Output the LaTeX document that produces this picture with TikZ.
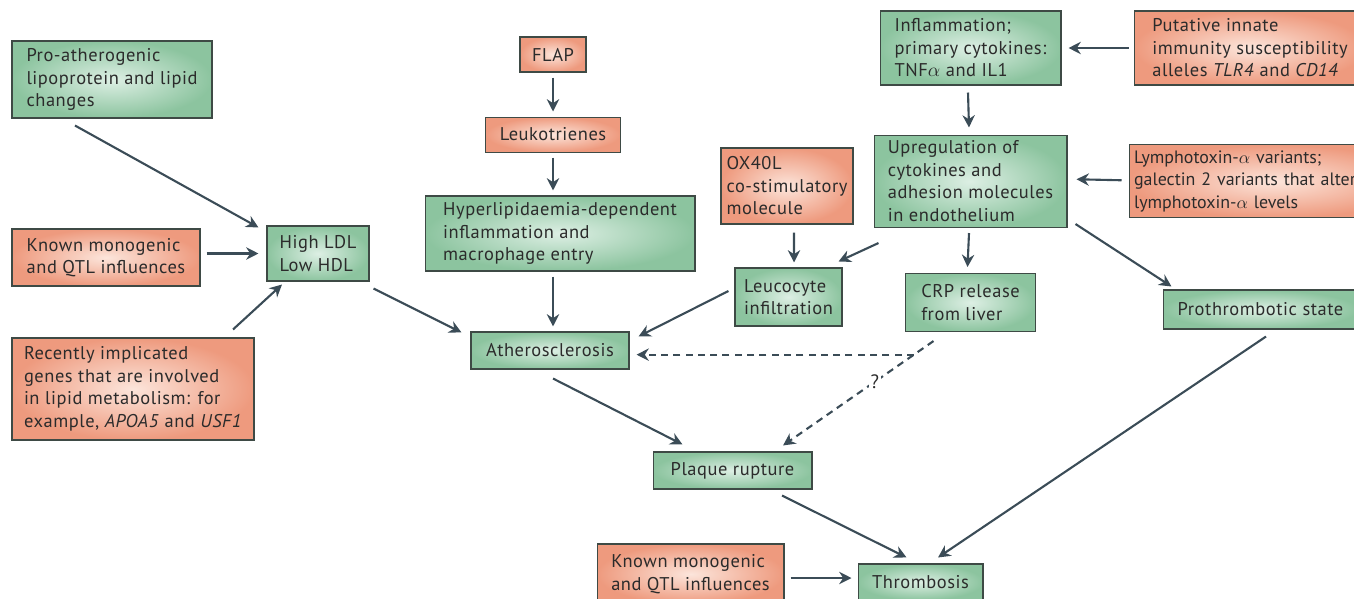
\documentclass[tikz,border=0pt]{standalone}
\usepackage{fontspec}
\setmainfont{PT Sans}[LetterSpace=3]
\newfontfamily\tightsans{PT Sans}
\usepackage{tikz}
\usepackage{xcolor}
\usetikzlibrary{arrows, arrows.meta, positioning, calc}

\definecolor{greenout}{HTML}{8CC49F}
\definecolor{greenin}{HTML}{DDEFE4}
\definecolor{orangeout}{HTML}{EE9A7E}
\definecolor{orangein}{HTML}{FCE5DB}
\definecolor{edge}{HTML}{3E4A45}
\definecolor{arrowc}{HTML}{3B4C57}
\definecolor{ink}{HTML}{2B2B2B}

\begin{document}
\begin{tikzpicture}[x=0.02cm, y=-0.02cm, node distance=1cm]
    % One unit is one pixel of the original figure (y grows downwards), so
    % the boxes can be set from the measured corners. The figure is cropped
    % on the right and at the bottom, hence the clip.
    \useasboundingbox (0,0) rectangle (1354,598);
    \clip (0,0) rectangle (1354,598);

    \tikzstyle{state} = [rectangle, draw=edge, line width=0.6pt,
        inner color=greenin, outer color=greenout, align=left, text=ink,
        inner xsep=0pt, font=\fontsize{10.5}{12.8}\selectfont]
    \tikzstyle{gene} = [state, inner color=orangein, outer color=orangeout]
    \tikzstyle{arrow} = [line width=1.2pt, draw=arrowc,
        -{Stealth[length=7pt, width=7pt]}]
    \tikzstyle{dasharrow} = [arrow, dash pattern=on 4pt off 3pt]

    % left column: lipid route
    \node (pro) [state, minimum width=4cm, minimum height=1.54cm] at (112,79.5)
        {Pro-atherogenic\\lipoprotein and lipid\\changes};
    \node (knownA) [gene, minimum width=3.76cm, minimum height=1.14cm] at (106,257.5)
        {Known monogenic\\and QTL influences};
    \node (ldl) [state, minimum width=2.04cm, minimum height=1.1cm] at (318,253.5)
        {High LDL\\Low HDL};
    \node (recent) [gene, minimum width=4.84cm, minimum height=2.04cm] at (133,389)
        {Recently implicated\\genes that are involved\\in lipid metabolism: for\\example, \textit{APOA5} and \textit{USF1}};

    % middle: leukotriene route
    \node (flap) [gene, minimum width=1.32cm, minimum height=0.7cm] at (553,54.5) {FLAP};
    \node (leuko) [gene, minimum width=2.7cm, minimum height=0.7cm, below=0.88cm of flap]
        {Leukotrienes};
    \node (hyper) [state, minimum width=5.4cm, minimum height=1.5cm] at (560,233.5)
        {Hyperlipidaemia-dependent\\inflammation and\\macrophage entry};
    \node (ox40) [gene, minimum width=2.64cm, minimum height=1.52cm] at (787,186)
        {OX40L\\co-stimulatory\\molecule};
    \node (leuc) [state, minimum width=2.14cm, minimum height=1.16cm] at (788.5,297)
        {Leucocyte\\infiltration};
    \node (athero) [state, minimum width=3.16cm, minimum height=0.74cm] at (550,350.5)
        {Atherosclerosis};

    % right: inflammation route
    \node (inflam) [state, minimum width=3.62cm, minimum height=1.48cm] at (970.5,48)
        {Inflammation;\\primary cytokines:\\TNF$\alpha$ and IL1};
    \node (putative) [gene, minimum width=4.64cm, minimum height=1.48cm, right=1.44cm of inflam]
        {Putative innate\\immunity susceptibility\\alleles \textit{TLR4} and \textit{CD14}};
    \node (upreg) [state, minimum width=3.86cm, minimum height=1.84cm, below=0.98cm of inflam]
        {Upregulation of\\cytokines and\\adhesion molecules\\in endothelium};
    % its right side runs off the page, as in the original: wide text width
    % so that «alter» stays on its line, no letter spacing and a hair
    % smaller so that it still ends before the edge
    \node (lympho) [gene, minimum height=1.44cm, right=1.22cm of upreg,
        text width=5.6cm, inner xsep=0.1cm,
        font=\tightsans\fontsize{10.2}{12.8}\selectfont]
        {Lymphotoxin-$\alpha$ variants;\\galectin 2 variants that alter\\lymphotoxin-$\alpha$ levels};
    \node (crp) [state, minimum width=2.6cm, minimum height=1.16cm, below=0.9cm of upreg]
        {CRP release\\from liver};
    \node (proth) [state, minimum width=3.9cm, minimum height=0.78cm] at (1260.5,309.5)
        {Prothrombotic state};

    % bottom
    \node (plaque) [state, minimum width=3.18cm, minimum height=0.74cm] at (732.5,470.5)
        {Plaque rupture};
    \node (knownB) [gene, minimum width=3.74cm, minimum height=1.2cm] at (690.5,574)
        {Known monogenic\\and QTL influences};
    \node (thromb) [state, minimum width=2.5cm, minimum height=0.72cm] at (920.5,582)
        {Thrombosis};

    % The arrows leave the boxes at the measured offsets and stop a few
    % pixels short, as in the original, so each end is an anchor plus a shift.
    \draw [arrow] ($(pro.south)+(-37,7)$) -- ($(ldl.north west)+(-8,2)$);
    \draw [arrow] ($(knownA.east)+(6,-4)$) -- ($(ldl.west)+(-8,0)$);
    \draw [arrow] ($(recent.north)+(100,-8)$) -- ($(ldl.south)+(-36,3)$);
    \draw [arrow] ($(ldl.south east)+(4,7)$) -- ($(athero.north west)+(-9,1)$);

    \draw [arrow] ($(flap.south)+(0,5)$) -- ($(flap.south |- leuko.north)+(0,-5)$);
    \draw [arrow] ($(flap.south |- leuko.south)+(0,5)$) -- ($(flap.south |- hyper.north)+(0,-5)$);
    \draw [arrow] ($(flap.south |- hyper.south)+(0,5)$) -- ($(flap.south |- athero.north)+(0,-5)$);
    \draw [arrow] ($(ox40.south)+(7,8)$) -- ($(leuc.north)+(5.5,-5)$);
    \draw [arrow] ($(upreg.south west)+(5,15)$) -- ($(leuc.north east)+(-4,-6)$);
    \draw [arrow] ($(leuc.west)+(-6,-6)$) -- ($(athero.north east)+(9,5)$);

    \draw [arrow] ($(putative.west)+(-5,0)$) -- ($(inflam.east)+(7,0)$);
    \draw [arrow] ($(inflam.south)+(-2.5,7)$) -- ($(upreg.north)+(-1.5,-7)$);
    \draw [arrow] ($(lympho.west)+(-7,-1)$) -- ($(upreg.east)+(9,-2)$);
    \draw [arrow] ($(upreg.south)+(-1.5,5)$) -- ($(crp.north)+(-3,-6)$);
    \draw [arrow] ($(upreg.south east)+(8,-4)$) -- ($(proth.north west)+(9,-3)$);

    \draw [arrow] ($(athero.south)+(3,9)$) -- ($(plaque.north west)+(30,-7)$);
    \draw [arrow] ($(plaque.south)+(49.5,6)$) -- ($(thromb.north west)+(49,-6)$);
    \draw [arrow] ($(proth.south)+(5.5,7)$) -- ($(thromb.north)+(17.5,-6)$);
    \draw [arrow] ($(knownB.east)+(6,4)$) -- ($(thromb.west)+(-6,-4)$);

    % CRP: one dashed line to the plaque, with a branch to atherosclerosis
    % that starts on it
    \coordinate (crpout) at ($(crp.south)+(-37,9)$);
    \coordinate (plaquein) at ($(plaque.north)+(50.5,-6)$);
    \coordinate (split) at ($(crpout)!0.13!(plaquein)$);
    \draw [dasharrow] (crpout) -- node [pos=0.39, fill=white, inner sep=1pt,
        text=ink, font=\fontsize{11}{12}\selectfont] {?} (plaquein);
    \draw [dasharrow] (split) -- ($(athero.east |- split)+(7,0)$);
\end{tikzpicture}
\end{document}
